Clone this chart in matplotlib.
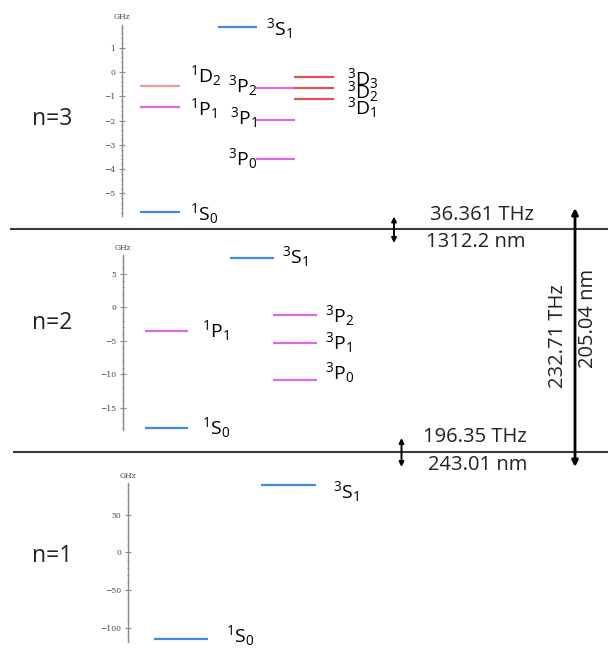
import matplotlib
matplotlib.use('Agg')
import matplotlib.pyplot as plt

plt.rcParams['font.family'] = ['Open Sans', 'DejaVu Sans']
plt.rcParams['mathtext.fontset'] = 'custom'
plt.rcParams['mathtext.rm'] = 'Open Sans'
plt.rcParams['mathtext.it'] = 'Open Sans:italic'

# energy levels, GHz relative to the centroid of each shell
n3_states = ['1S0', '1P1', '1D2', '3S1', '3P0', '3P1', '3P2', '3D1', '3D2', '3D3']
n3_ghz = [-5.76, -1.44, -0.56, 1.84, -3.6, -1.97, -0.67, -1.1, -0.67, -0.23]
n2_states = ['1S0', '1P1', '3S1', '3P0', '3P1', '3P2']
n2_ghz = [-18.0, -3.47, 7.4, -10.8, -5.37, -1.08]
n1_states = ['1S0', '3S1']
n1_ghz = [-115.4, 89.8]
shell_names = ['n=3', 'n=2', 'n=1']
gaps_thz = ['36.361 THz', '196.35 THz', '232.71 THz']
gaps_nm = ['1312.2 nm', '243.01 nm', '205.04 nm']

W, H = 608, 648
fig = plt.figure(figsize=(W/100, H/100), dpi=100)
base = fig.add_axes([0, 0, 1, 1])
base.set_xlim(0, W); base.set_ylim(H, 0); base.axis('off')

colors = {'S': '#3d8ee0', 'P': '#e066ee', 'D2': '#f39a9a', 'D': '#e05454'}

def col(s):
    if s[1] == 'D' and s[0] == '1':
        return colors['D2']
    return colors[s[1]]

def lab(s):
    return r'$^{%s}\mathrm{%s}_{%s}$' % (s[0], s[1], s[2])

def panel(left, top, bottom, ylim, major, minor):
    ax = fig.add_axes([left/W, 1-bottom/H, 240/W, (bottom-top)/H])
    ax.set_xlim(0, 240); ax.set_ylim(*ylim)
    ax.patch.set_alpha(0)
    for k in ['top', 'right', 'bottom']:
        ax.spines[k].set_visible(False)
    ax.spines['left'].set_color('#8a8a8a'); ax.spines['left'].set_linewidth(1)
    ax.set_xticks([])
    ax.yaxis.set_major_locator(plt.MultipleLocator(major))
    ax.yaxis.set_minor_locator(plt.MultipleLocator(minor))
    ax.tick_params(axis='y', which='major', direction='inout', length=4, width=0.8, color='#8a8a8a',
                   labelsize=5.5, labelcolor='#444444', pad=3)
    ax.tick_params(axis='y', which='minor', direction='inout', length=2, width=0.6, color='#8a8a8a')
    for t in ax.get_yticklabels():
        t.set_family('DejaVu Serif')
    ax.text(0, 1.02, 'GHz', transform=ax.transAxes, ha='center', va='bottom', fontsize=5.5,
            family='DejaVu Serif', color='#444444')
    return ax

def levels(ax, states, vals, spots):
    for s, v in zip(states, vals):
        x0, w, tx, dy, ha = spots[s]
        ax.hlines(v, x0, x0+w, color=col(s), lw=1.6)
        ax.annotate(lab(s), (tx, v), xytext=(0, -dy), textcoords='offset pixels',
                    ha=ha, va='baseline', fontsize=14)

# n=3
a3 = panel(122, 25, 216, (-5.93, 1.93), 1, 0.2)
levels(a3, n3_states, n3_ghz, {
    '1S0': (18, 40, 68, 8, 'left'), '1P1': (18, 40, 68, 8, 'left'), '1D2': (18, 40, 68, -3, 'left'),
    '3S1': (96, 39, 144, 8, 'left'), '3P2': (134, 39, 135, 4, 'right'), '3P1': (134, 39, 135, 4, 'right'),
    '3P0': (134, 39, 135, 6, 'right'), '3D3': (172, 40, 225, 8, 'left'), '3D2': (172, 40, 225, 10, 'left'),
    '3D1': (172, 40, 225, 15, 'left')})

# n=2
a2 = panel(123, 255, 430, (-18.37, 7.87), 5, 1)
levels(a2, n2_states, n2_ghz, {
    '1S0': (22, 43, 79, 7, 'left'), '1P1': (22, 43, 79, 6, 'left'), '3S1': (107, 44, 159, 5, 'left'),
    '3P2': (150, 44, 202, 7, 'left'), '3P1': (150, 44, 202, 6, 'left'), '3P0': (150, 44, 202, 0, 'left')})

# n=1
a1 = panel(128, 483, 642, (-119, 92.4), 50, 10)
levels(a1, n1_states, n1_ghz, {
    '1S0': (26, 54, 98, 3, 'left'), '3S1': (133, 55, 205, 13, 'left')})

for name, y in zip(shell_names, [119, 323, 556]):
    base.text(32, y, name, ha='left', va='center', fontsize=16.5, color='#222222')

base.hlines([229.3, 451.7], [10, 13], W, color='#3a3a3a', lw=1.5)

arr = dict(arrowstyle='<|-|>', color='black', lw=1.4, mutation_scale=7, shrinkA=0, shrinkB=0)
base.annotate('', xy=(394, 243), xytext=(394, 216.5), arrowprops=arr)
base.annotate('', xy=(401.5, 467), xytext=(401.5, 438), arrowprops=arr)
big = dict(arr, lw=2, mutation_scale=9)
base.annotate('', xy=(575, 467), xytext=(575, 208), arrowprops=big)

fs = 14.5
base.text(482, 215, gaps_thz[0], ha='center', va='center', fontsize=fs, color='#222222')
base.text(476, 242, gaps_nm[0], ha='center', va='center', fontsize=fs, color='#222222')
base.text(475, 437, gaps_thz[1], ha='center', va='center', fontsize=fs, color='#222222')
base.text(478, 465, gaps_nm[1], ha='center', va='center', fontsize=fs, color='#222222')
base.text(558, 336, gaps_thz[2], ha='center', va='center', fontsize=fs, rotation=90, color='#222222')
base.text(588, 318, gaps_nm[2], ha='center', va='center', fontsize=fs, rotation=90, color='#222222')

fig.savefig('out.png', dpi=100)
